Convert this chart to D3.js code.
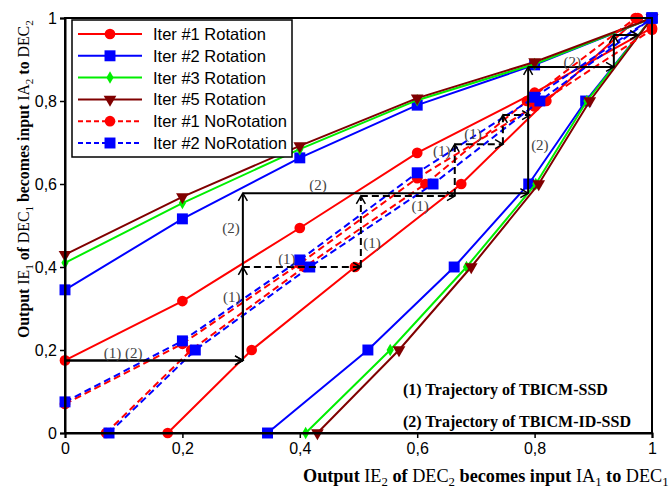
<!DOCTYPE html>
<html>
<head>
<meta charset="utf-8">
<script src="https://cdn.jsdelivr.net/npm/d3@7"></script>
<style>
body { margin: 0; background: #fff; }
</style>
</head>
<body>
<div id="wrapper"></div>
<script>
// 1. Data
const xGrid = [0, 0.2, 0.4, 0.6, 0.8, 1]
const iter1Rot = [0.175, 0.318, 0.494, 0.675, 0.82, 0.976]
const iter2Rot = [0.345, 0.516, 0.663, 0.79, 0.887, 1.0]
const iter3Rot = [0.41, 0.554, 0.684, 0.802, 0.889, 1.0]
const iter5Rot = [0.43, 0.569, 0.692, 0.807, 0.894, 1.0]
const iter1NoRot = [0.07, 0.215, 0.408, 0.614, 0.787, 0.972]
const iter2NoRot = [0.075, 0.222, 0.417, 0.627, 0.809, 1.0]

const seriesNames = ['Iter #1 Rotation', 'Iter #2 Rotation', 'Iter #3 Rotation',
    'Iter #5 Rotation', 'Iter #1 NoRotation', 'Iter #2 NoRotation']

const tickValues = [0, 0.2, 0.4, 0.6, 0.8, 1]
const tickLabels = ['0', '0,2', '0,4', '0,6', '0,8', '1']

// trajectory steps (IA1/IE2, IE1/IA2)
const traj1 = [[0, 0.175], [0.303, 0.175], [0.303, 0.40], [0.504, 0.40], [0.504, 0.571],
    [0.664, 0.571], [0.664, 0.696], [0.746, 0.696], [0.746, 0.766], [0.792, 0.766]]
const traj2 = [[0, 0.175], [0.303, 0.175], [0.303, 0.578], [0.789, 0.578], [0.789, 0.882],
    [0.935, 0.882], [0.935, 0.959], [0.976, 0.959]]

const trajLabels = [
    ['(1) (2)', 0.099, 0.193], ['(1)', 0.284, 0.328], ['(2)', 0.283, 0.494],
    ['(1)', 0.378, 0.419], ['(2)', 0.431, 0.598], ['(1)', 0.523, 0.458],
    ['(1)', 0.605, 0.547], ['(1)', 0.642, 0.680], ['(1)', 0.695, 0.720],
    ['(2)', 0.809, 0.694], ['(2)', 0.864, 0.894]
]
const notes = ['(1) Trajectory of TBICM-SSD', '(2) Trajectory of TBICM-ID-SSD']

// 2. Dimensions
const dms = {
    width: 671,
    height: 488,
    margins: { top: 18, right: 19, bottom: 55, left: 65 }
}
dms.boundedWidth = dms.width - dms.margins.left - dms.margins.right
dms.boundedHeight = dms.height - dms.margins.top - dms.margins.bottom

// 3. Canvas
const wrapper = d3.select('#wrapper')
    .append('svg')
        .attr('width', dms.width)
        .attr('height', dms.height)
        .style('font-family', 'Liberation Sans, Arial, sans-serif')

const bounds = wrapper.append('g')
    .attr('transform', `translate(${dms.margins.left},${dms.margins.top})`)

// 4. Scales
const xScale = d3.scaleLinear().domain([0, 1]).range([0, dms.boundedWidth])
const yScale = d3.scaleLinear().domain([0, 1]).range([dms.boundedHeight, 0])

// 5. Curves
const styles = [
    { color: '#ff0000', dash: null, symbol: d3.symbolCircle, size: 90 },
    { color: '#0000ff', dash: null, symbol: d3.symbolSquare, size: 120 },
    { color: '#00ee00', dash: null, symbol: d3.symbolDiamond, size: 45 },
    { color: '#800000', dash: null, symbol: d3.symbolTriangle, size: 70, rotate: 180 },
    { color: '#ff0000', dash: '7,4', symbol: d3.symbolCircle, size: 90 },
    { color: '#0000ff', dash: '7,4', symbol: d3.symbolSquare, size: 120 }
]
const allValues = [iter1Rot, iter2Rot, iter3Rot, iter5Rot, iter1NoRot, iter2NoRot]

const line = d3.line()
    .x(d => xScale(d[0]))
    .y(d => yScale(d[1]))

allValues.forEach((vals, i) => {
    const s = styles[i]
    const dec1 = xGrid.map((x, j) => [x, vals[j]])
    const dec2 = xGrid.map((x, j) => [vals[j], x])
    const g = bounds.append('g')
    ;[dec1, dec2].forEach(pts => {
        g.append('path')
            .attr('d', line(pts))
            .attr('fill', 'none')
            .attr('stroke', s.color)
            .attr('stroke-width', 2)
            .attr('stroke-dasharray', s.dash)
        g.selectAll(null)
            .data(pts)
            .join('path')
                .attr('d', d3.symbol(s.symbol, s.size))
                .attr('fill', s.color)
                .attr('transform', d => `translate(${xScale(d[0])},${yScale(d[1])}) rotate(${s.rotate || 0})`)
    })
})

// 6. Trajectories
function arrowHead(g, p0, p1) {
    const x0 = xScale(p0[0]), y0 = yScale(p0[1])
    const x1 = xScale(p1[0]), y1 = yScale(p1[1])
    const a = Math.atan2(y1 - y0, x1 - x0)
    const len = 9, spread = Math.PI / 6
    const pA = [x1 - len * Math.cos(a - spread), y1 - len * Math.sin(a - spread)]
    const pB = [x1 - len * Math.cos(a + spread), y1 - len * Math.sin(a + spread)]
    g.append('path')
        .attr('d', `M${pA}L${x1},${y1}L${pB}`)
        .attr('fill', 'none')
        .attr('stroke', '#000')
        .attr('stroke-width', 1.5)
}

const trajG = bounds.append('g')
function drawTraj(pts, dashFrom) {
    for (let i = 0; i < pts.length - 1; i++) {
        trajG.append('path')
            .attr('d', line([pts[i], pts[i + 1]]))
            .attr('stroke', '#000')
            .attr('stroke-width', 2)
            .attr('stroke-dasharray', i >= dashFrom ? '7,4' : null)
        arrowHead(trajG, pts[i], pts[i + 1])
    }
}
drawTraj(traj2, 99)
drawTraj(traj1, 2)

trajG.selectAll('text.tl')
    .data(trajLabels)
    .join('text')
        .attr('class', 'tl')
        .attr('x', d => xScale(d[1]))
        .attr('y', d => yScale(d[2]))
        .attr('text-anchor', 'middle')
        .attr('dominant-baseline', 'central')
        .style('font-family', 'Liberation Serif, Times New Roman, serif')
        .style('font-size', '15px')
        .attr('fill', '#444')
        .text(d => d[0])

// 7. Frame and axes
bounds.append('rect')
    .attr('width', dms.boundedWidth)
    .attr('height', dms.boundedHeight)
    .attr('fill', 'none')
    .attr('stroke', '#000')
    .attr('stroke-width', 2)

const xAxis = bounds.append('g')
    .attr('transform', `translate(0,${dms.boundedHeight})`)
    .call(d3.axisBottom(xScale).tickValues(tickValues)
        .tickFormat((d, i) => tickLabels[i]).tickSize(5).tickPadding(5))
const yAxis = bounds.append('g')
    .call(d3.axisLeft(yScale).tickValues(tickValues)
        .tickFormat((d, i) => tickLabels[i]).tickSize(5).tickPadding(3))
;[xAxis, yAxis].forEach(ax => {
    ax.select('.domain').attr('stroke-width', 2)
    ax.selectAll('line').attr('stroke-width', 1.5)
    ax.selectAll('text')
        .style('font-family', 'Liberation Sans, Arial, sans-serif')
        .style('font-size', '16px')
        .attr('fill', '#000')
})

// 8. Legend
const legend = bounds.append('g')
legend.append('rect')
    .attr('x', 7).attr('y', 2)
    .attr('width', 220).attr('height', 137)
    .attr('fill', '#fff')
    .attr('stroke', '#000')
    .attr('stroke-width', 1.5)
seriesNames.forEach((name, i) => {
    const s = styles[i]
    const ly = 16 + i * 21.8
    legend.append('line')
        .attr('x1', 13).attr('x2', 77)
        .attr('y1', ly).attr('y2', ly)
        .attr('stroke', s.color)
        .attr('stroke-width', 2)
        .attr('stroke-dasharray', s.dash ? '5,3' : null)
    legend.append('path')
        .attr('d', d3.symbol(s.symbol, s.size))
        .attr('fill', s.color)
        .attr('transform', `translate(45,${ly}) rotate(${s.rotate || 0})`)
    legend.append('text')
        .attr('x', 88).attr('y', ly)
        .attr('dominant-baseline', 'central')
        .style('font-size', '16.5px')
        .text(name)
})

// 9. Notes
bounds.selectAll('text.note')
    .data(notes)
    .join('text')
        .attr('class', 'note')
        .attr('x', 338)
        .attr('y', (d, i) => 377 + i * 32)
        .style('font-family', 'Liberation Serif, Times New Roman, serif')
        .style('font-weight', 'bold')
        .style('font-size', '16px')
        .text(d => d)

// 10. Axis titles
function axisTitle(sel, parts) {
    parts.forEach(p => {
        const t = sel.append('tspan').text(p[0])
            .style('font-weight', p[1] ? 'bold' : 'normal')
        if (p[2]) t.attr('dy', 4).style('font-size', '0.7em')
        if (p[3]) t.attr('dy', -4)
    })
}
const xParts = [['Output ', 1], ['IE', 0], ['2', 0, 1], [' of ', 1, 0, 1], ['DEC', 0], ['2', 0, 1],
    [' becomes input ', 1, 0, 1], ['IA', 0], ['1', 0, 1], [' to ', 1, 0, 1], ['DEC', 0], ['1', 0, 1]]
const yParts = [['Output ', 1], ['IE', 0], ['1', 0, 1], [' of ', 1, 0, 1], ['DEC', 0], ['1', 0, 1],
    [' becomes input ', 1, 0, 1], ['IA', 0], ['2', 0, 1], [' to ', 1, 0, 1], ['DEC', 0], ['2', 0, 1]]

const xTitle = wrapper.append('text')
    .attr('x', 303).attr('y', 482)
    .style('font-family', 'Liberation Serif, Times New Roman, serif')
    .style('font-size', '16px')
axisTitle(xTitle, xParts)
xTitle.style('font-size', 16 * 366 / xTitle.node().getComputedTextLength() + 'px')

const yTitle = wrapper.append('text')
    .attr('transform', 'translate(29,338) rotate(-90)')
    .style('font-family', 'Liberation Serif, Times New Roman, serif')
    .style('font-size', '16px')
axisTitle(yTitle, yParts)
yTitle.style('font-size', 16 * 318 / yTitle.node().getComputedTextLength() + 'px')
</script>
</body>
</html>
